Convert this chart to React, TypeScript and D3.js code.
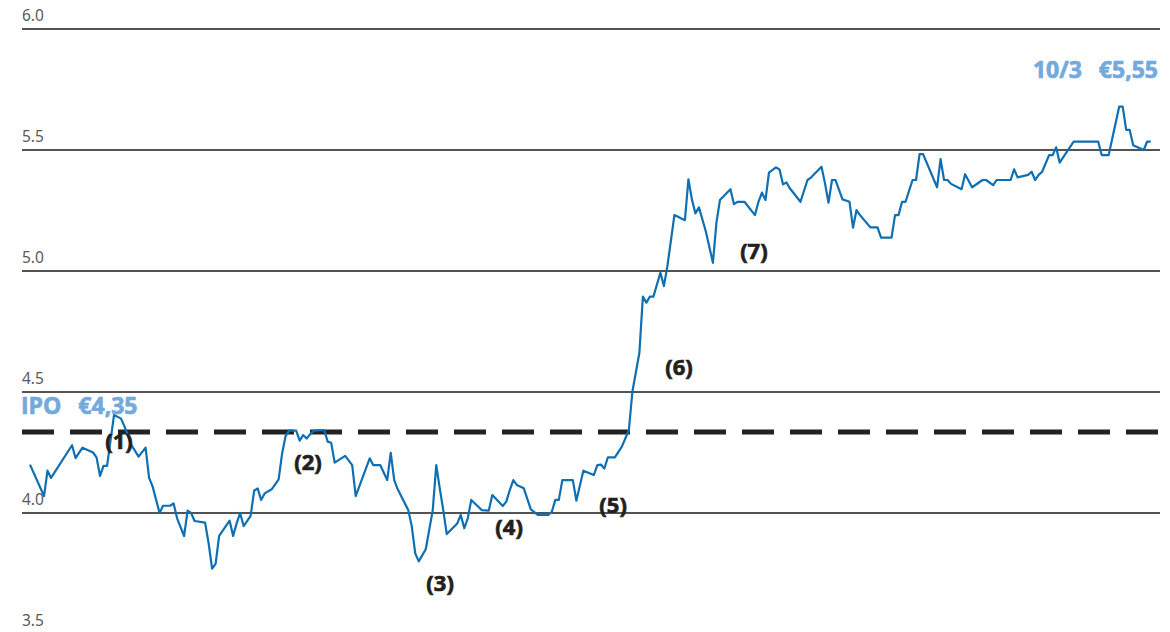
import React, { useEffect, useRef } from 'react';
import * as d3 from 'd3';

// trading days since IPO and closing price (EUR)
const days = [
  0, 4, 5, 6, 12, 13, 15, 18, 19, 20, 21, 22, 23, 24, 26, 27, 29, 31, 33, 34,
  35, 37, 38, 40, 41, 42, 44, 45, 46, 47, 50, 51, 52, 53, 54, 57, 58, 59, 60, 61,
  63, 64, 65, 66, 67, 69, 71, 72, 73, 74, 76, 77, 78, 79, 80, 81, 84, 85, 86, 87,
  90, 92, 93, 97, 98, 100, 102, 103, 104, 105, 108, 109, 110, 111, 113, 115, 116, 117, 118, 119,
  122, 123, 124, 125, 126, 129, 131, 132, 135, 136, 137, 138, 139, 141, 143, 145, 148, 149, 150, 151,
  152, 155, 156, 158, 161, 162, 163, 164, 165, 167, 169, 171, 172, 174, 175, 176, 177, 178, 180, 181,
  182, 184, 187, 188, 189, 190, 191, 193, 195, 196, 197, 200, 201, 202, 204, 207, 208, 209, 210, 211,
  213, 214, 215, 216, 217, 220, 222, 223, 226, 227, 228, 229, 230, 232, 234, 235, 236, 237, 240, 242,
  243, 246, 247, 248, 249, 250, 252, 253, 254, 255, 259, 260, 261, 262, 263, 266, 267, 269, 272, 273,
  275, 276, 280, 281, 282, 285, 286, 287, 288, 289, 291, 292, 293, 294, 298, 305, 306, 308, 311, 312,
  313, 314, 315, 318, 319, 320,
];
const prices = [
  4.2, 4.07, 4.175, 4.145, 4.28, 4.227, 4.27, 4.25, 4.23, 4.153, 4.195, 4.195, 4.3, 4.405, 4.39, 4.357, 4.28, 4.233, 4.27, 4.145,
  4.11, 4.0, 4.03, 4.03, 4.04, 3.978, 3.905, 4.01, 4.0, 3.967, 3.96, 3.875, 3.77, 3.79, 3.905, 3.968, 3.905, 3.957, 4.0, 3.946,
  3.988, 4.092, 4.102, 4.054, 4.081, 4.098, 4.139, 4.247, 4.319, 4.34, 4.34, 4.299, 4.322, 4.308, 4.326, 4.34, 4.343, 4.295, 4.29, 4.208,
  4.236, 4.198, 4.07, 4.226, 4.198, 4.198, 4.136, 4.249, 4.136, 4.098, 4.012, 3.946, 3.833, 3.8, 3.85, 4.012, 4.198, 4.102, 4.012, 3.913,
  3.957, 3.992, 3.937, 3.978, 4.054, 4.012, 4.01, 4.074, 4.029, 4.047, 4.095, 4.136, 4.116, 4.102, 4.015, 3.992, 3.992, 4.005, 4.054, 4.054,
  4.136, 4.136, 4.051, 4.175, 4.157, 4.198, 4.2, 4.184, 4.23, 4.23, 4.274, 4.343, 4.501, 4.662, 4.894, 4.869, 4.894, 4.894, 4.993, 4.938,
  5.02, 5.231, 5.21, 5.379, 5.296, 5.238, 5.263, 5.162, 5.034, 5.2, 5.293, 5.338, 5.276, 5.286, 5.286, 5.231, 5.286, 5.324, 5.293, 5.406,
  5.428, 5.42, 5.358, 5.366, 5.341, 5.286, 5.376, 5.386, 5.431, 5.362, 5.282, 5.376, 5.376, 5.296, 5.286, 5.179, 5.252, 5.231, 5.18, 5.18,
  5.138, 5.138, 5.231, 5.231, 5.286, 5.286, 5.376, 5.376, 5.483, 5.483, 5.346, 5.462, 5.376, 5.376, 5.36, 5.338, 5.4, 5.346, 5.376, 5.376,
  5.355, 5.376, 5.376, 5.42, 5.387, 5.397, 5.41, 5.376, 5.397, 5.41, 5.479, 5.479, 5.511, 5.448, 5.535, 5.535, 5.479, 5.479, 5.679, 5.679,
  5.583, 5.583, 5.52, 5.5, 5.535, 5.535,
];

const yTicks = [3.5, 4.0, 4.5, 5.0, 5.5, 6.0];
const ipoLevel = 4.335;
const ipoLabel = 'IPO €4,35';
const lastLabel = '10/3 €5,55';

const notes = ['(1)', '(2)', '(3)', '(4)', '(5)', '(6)', '(7)'];
const noteDays = [25.4, 79.4, 117.1, 136.8, 166.5, 185.3, 206.7];
const notePrices = [4.264, 4.178, 3.678, 3.909, 4.0, 4.57, 5.05];

const width = 1170;
const height = 632;

export default function App() {
  const ref = useRef<SVGSVGElement>(null);

  useEffect(() => {
    document.body.style.margin = '0';
    const svg = d3.select(ref.current);
    svg.selectAll('*').remove();

    const x = d3.scaleLinear().domain([0, 320]).range([30, 1150.7]);
    const y = d3.scaleLinear().domain([4, 6]).range([513, 29]);
    const left = 22;
    const right = 1160;

    // gridlines + tick labels
    const grid = svg.append('g');
    grid
      .selectAll('line')
      .data(yTicks.filter(t => y(t) < height))
      .join('line')
      .attr('x1', left)
      .attr('x2', right)
      .attr('y1', d => y(d))
      .attr('y2', d => y(d))
      .attr('stroke', '#1a1a1a')
      .attr('stroke-width', 1.5);
    grid
      .selectAll('text')
      .data(yTicks)
      .join('text')
      .attr('x', left)
      .attr('y', d => y(d) - 8)
      .attr('font-family', 'Noto Sans, sans-serif')
      .attr('font-size', 15.5)
      .attr('fill', '#5a5a5a')
      .text(d => d.toFixed(1));

    // IPO level
    svg
      .append('line')
      .attr('x1', left)
      .attr('x2', right)
      .attr('y1', y(ipoLevel))
      .attr('y2', y(ipoLevel))
      .attr('stroke', '#222')
      .attr('stroke-width', 5)
      .attr('stroke-dasharray', '32 16');

    const line = d3
      .line<number>()
      .x((d, i) => x(days[i]))
      .y(d => y(d));

    svg
      .append('path')
      .datum(prices)
      .attr('d', line)
      .attr('fill', 'none')
      .attr('stroke', '#0f6fb3')
      .attr('stroke-width', 2.2)
      .attr('stroke-linejoin', 'round');

    svg
      .append('g')
      .selectAll('text')
      .data(notes)
      .join('text')
      .attr('x', (d, i) => x(noteDays[i]))
      .attr('y', (d, i) => y(notePrices[i]))
      .attr('text-anchor', 'middle')
      .attr('font-family', 'Open Sans, sans-serif')
      .attr('font-weight', 700)
      .attr('font-size', 22)
      .attr('fill', '#231f20')
      .attr('stroke', '#231f20')
      .attr('stroke-width', 0.7)
      .text(d => d);

    const hl = svg
      .append('g')
      .attr('font-family', 'Open Sans, sans-serif')
      .attr('font-weight', 700)
      .attr('font-size', 23)
      .attr('word-spacing', 11)
      .attr('fill', '#74a9dc')
      .attr('stroke', '#74a9dc')
      .attr('stroke-width', 0.7);
    hl.append('text').attr('x', 21).attr('y', 414).text(ipoLabel);
    hl.append('text')
      .attr('x', 1158)
      .attr('y', 78)
      .attr('text-anchor', 'end')
      .text(lastLabel);
  }, []);

  return <svg ref={ref} width={width} height={height} style={{ display: 'block' }} />;
}
